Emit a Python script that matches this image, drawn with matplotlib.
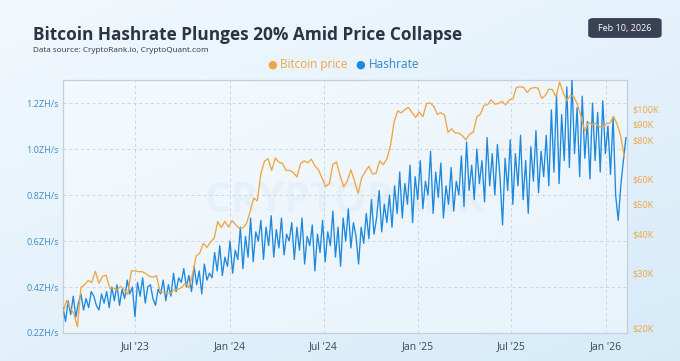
import numpy as np
import pandas as pd
import matplotlib
matplotlib.use("Agg")
import matplotlib.pyplot as plt
from matplotlib.patches import FancyBboxPatch
from matplotlib.ticker import FixedLocator, NullLocator

# Bitcoin price (USD thousands), weekly from 2023-02-10
price_start = "2023-02-10"
price = [
    22.5, 24.5, 23.2, 22.3, 20.2, 27.0, 27.5, 28.4, 28.0, 30.4, 27.8, 29.3,
    29.5, 26.8, 26.9, 26.5, 27.2, 26.5, 25.6, 30.5, 30.5, 30.3, 30.3, 29.9,
    29.3, 29.1, 29.4, 26.1, 26.0, 25.9, 25.9, 26.6, 26.6, 27.0, 27.9, 26.9,
    29.7, 34.0, 34.7, 37.3, 36.2, 37.7, 38.7, 43.8, 41.9, 43.9, 42.1,
    44.1, 42.8, 41.6, 41.8, 43.2, 47.1, 52.1, 51.0, 62.4, 68.3, 69.5, 63.8,
    69.9, 67.8, 67.2, 63.8, 63.8, 62.9, 60.8, 67.0, 68.5, 67.5, 69.3, 66.0,
    64.1, 60.3, 56.7, 57.9, 66.7, 67.9, 61.4, 56.5, 59.0, 64.1, 59.1, 53.9,
    60.5, 63.2, 65.8, 62.1, 62.5, 68.4, 66.6, 69.4, 76.5, 91.0, 98.9, 97.4,
    99.9, 101.4, 97.8, 94.2,
    98.1, 94.7, 104.4, 104.8, 102.4, 96.5, 97.5, 96.1, 84.4, 86.7, 84.0, 84.0,
    82.3, 79.9, 83.4, 84.5, 94.7, 96.5, 103.0, 103.5, 107.3, 103.9, 104.3, 106.1,
    103.3, 107.1, 108.0, 117.5, 118.0, 117.6, 113.3, 116.7, 117.4, 116.9, 108.4,
    110.7, 115.9, 115.7, 109.6, 122.3, 113.0, 106.5, 111.0, 109.6, 103.3, 94.5,
    85.1, 91.0, 89.3, 90.2, 88.1, 87.3,
    90.0, 90.5, 95.0, 89.5, 82.0, 70.0,
]

# Hashrate (ZH/s), every 5 days from 2023-02-10
hash_start = "2023-02-10"
hashrate = [
    0.31, 0.25, 0.34, 0.28, 0.36, 0.27, 0.33, 0.37, 0.30, 0.35,
    0.31, 0.38, 0.36, 0.32, 0.30, 0.37, 0.33, 0.38, 0.31, 0.40,
    0.34, 0.41, 0.32, 0.39, 0.35, 0.43, 0.37, 0.40, 0.27, 0.42,
    0.36, 0.44, 0.33, 0.40, 0.41, 0.35, 0.32, 0.39, 0.37, 0.43,
    0.34, 0.41, 0.36, 0.46, 0.38, 0.44, 0.42, 0.48, 0.40, 0.45,
    0.38, 0.49, 0.41, 0.47, 0.37, 0.50, 0.43, 0.46, 0.44, 0.55,
    0.47, 0.58, 0.45, 0.53, 0.49, 0.60, 0.46, 0.56, 0.52, 0.66,
    0.48, 0.62, 0.53, 0.70, 0.51, 0.64, 0.60, 0.69, 0.52, 0.66,
    0.58, 0.71, 0.53, 0.65, 0.57, 0.70, 0.54, 0.63, 0.60, 0.68,
    0.52, 0.66, 0.56, 0.70, 0.50, 0.62, 0.58, 0.67, 0.47, 0.63,
    0.55, 0.69, 0.51, 0.64, 0.58, 0.73, 0.53, 0.66, 0.49, 0.70,
    0.60, 0.74, 0.57, 0.68, 0.62, 0.50, 0.66, 0.59, 0.72, 0.61,
    0.78, 0.63, 0.70, 0.82, 0.64, 0.76, 0.68, 0.80, 0.66, 0.84,
    0.72, 0.90, 0.70, 0.85, 0.76, 0.93, 0.68, 0.88, 0.78, 0.95,
    0.74, 0.86, 0.80, 0.99, 0.72, 0.90, 0.79, 0.94, 0.70, 0.84,
    0.76, 0.92, 0.73, 0.86, 0.80, 0.97, 0.75, 1.03, 0.82, 0.93,
    0.78, 1.00, 0.85, 0.95, 0.77, 1.05, 0.84, 0.98, 0.80, 1.02,
    0.88, 0.67, 0.96, 0.82, 1.04, 0.76, 0.98, 0.84, 1.06, 0.78,
    0.95, 0.72, 1.01, 0.86, 1.08, 0.81, 0.99, 0.88, 1.06, 0.84,
    1.17, 0.90, 1.24, 0.85, 1.15, 0.95, 1.27, 0.92, 1.30, 0.98,
    1.18, 0.88, 1.23, 0.96, 1.12, 0.87, 1.20, 0.95, 1.16, 0.90,
    1.21, 0.98, 1.10, 0.89, 1.14, 0.80, 0.69, 0.84, 0.95, 1.05,
]

hash_ticks = [0.2, 0.4, 0.6, 0.8, 1.0, 1.2]
price_ticks = [20, 30, 40, 50, 60, 80, 90, 100]
month_ticks = ["2023-07-01", "2024-01-01", "2024-07-01", "2025-01-01", "2025-07-01", "2026-01-01"]
month_labels = ["Jul '23", "Jan '24", "Jul '24", "Jan '25", "Jul '25", "Jan '26"]

BLUE = "#1e88dc"
ORANGE = "#f0a543"
LEFT_LBL = "#3f8cc6"
TITLE = "#2a3442"

price_dates = pd.date_range(price_start, periods=len(price), freq="7D")
hash_dates = pd.date_range(hash_start, periods=len(hashrate), freq="5D")

plt.rcParams["font.family"] = ["Open Sans", "DejaVu Sans"]

fig = plt.figure(figsize=(6.8, 3.61), dpi=100)

# background gradient
bg = fig.add_axes([0, 0, 1, 1], zorder=-10)
gx = np.linspace(0, 1, 200)
gy = np.linspace(0, 1, 100)
GX, GY = np.meshgrid(gx, gy)
grad = 0.55 * GY + 0.45 * GX
c0 = np.array([0.95, 0.975, 0.995])
c1 = np.array([0.84, 0.92, 0.975])
img = c0[None, None, :] * (1 - grad[..., None]) + c1[None, None, :] * grad[..., None]
bg.imshow(img, aspect="auto", extent=[0, 1, 0, 1], origin="upper")
bg.set_axis_off()

ax = fig.add_axes([0.0926, 0.0776, 0.8294, 0.7005])
ax.set_facecolor((1, 1, 1, 0.4))
ax.plot(hash_dates, hashrate, color=BLUE, lw=0.95, zorder=3)
ax.set_ylim(0.2, 1.30)
ax.set_xlim(pd.Timestamp("2023-02-10"), pd.Timestamp("2026-02-11"))
ax.yaxis.set_major_locator(FixedLocator(hash_ticks))
ax.set_yticklabels([f"{t:.1f}ZH/s" for t in hash_ticks])
ax.set_xticks(pd.to_datetime(month_ticks))
ax.set_xticklabels(month_labels)
ax.tick_params(axis="y", length=0, labelsize=6.6, labelcolor=LEFT_LBL, pad=3)
ax.tick_params(axis="x", length=0, labelsize=7.5, labelcolor="#3a4656", pad=6)
ax.grid(True, color="#c9d6e3", lw=0.7, ls=(0, (3, 3)))
for s in ax.spines.values():
    s.set_color("#c3cfdc")
    s.set_linewidth(0.9)

ax.text(0.5, 0.52, "CRYPTORANK", transform=ax.transAxes, ha="center", va="center",
        fontsize=30, color="#dde9f5", alpha=0.45, fontweight="bold", zorder=1)

ax2 = ax.twinx()
ax2.plot(price_dates, [p * 1000 for p in price], color=ORANGE, lw=0.95, zorder=4)
ax2.set_yscale("log")
ax2.set_ylim(19300, 124000)
ax2.yaxis.set_major_locator(FixedLocator([p * 1000 for p in price_ticks]))
ax2.yaxis.set_minor_locator(NullLocator())
ax2.set_yticklabels([f"${p}K" for p in price_ticks])
ax2.tick_params(axis="y", length=0, labelsize=6.6, labelcolor=ORANGE, pad=4)
for s in ax2.spines.values():
    s.set_visible(False)

# header
fig.text(0.048, 0.889, "Bitcoin Hashrate Plunges 20% Amid Price Collapse",
         fontsize=12.4, fontweight="bold", color=TITLE, ha="left", va="baseline")
fig.text(0.048, 0.861, "Data source: CryptoRank.io, CryptoQuant.com",
         fontsize=5.9, color="#2f3540", ha="left", va="center")

fig.text(0.40, 0.820, "\u25CF", color=ORANGE, fontsize=8, ha="center", va="center")
fig.text(0.412, 0.820, "Bitcoin price", color=ORANGE, fontsize=8.5, ha="left", va="center")
fig.text(0.530, 0.820, "\u25CF", color=BLUE, fontsize=8, ha="center", va="center")
fig.text(0.543, 0.820, "Hashrate", color="#2f86c8", fontsize=8.5, ha="left", va="center")

badge = FancyBboxPatch((0.865, 0.895), 0.108, 0.055, boxstyle="round,pad=0,rounding_size=0.008",
                       transform=fig.transFigure, facecolor="#3a4154", edgecolor="none")
fig.patches.append(badge)
fig.text(0.919, 0.922, "Feb 10, 2026", color="white", fontsize=6.5, ha="center", va="center")

fig.savefig("out.png", dpi=100)
